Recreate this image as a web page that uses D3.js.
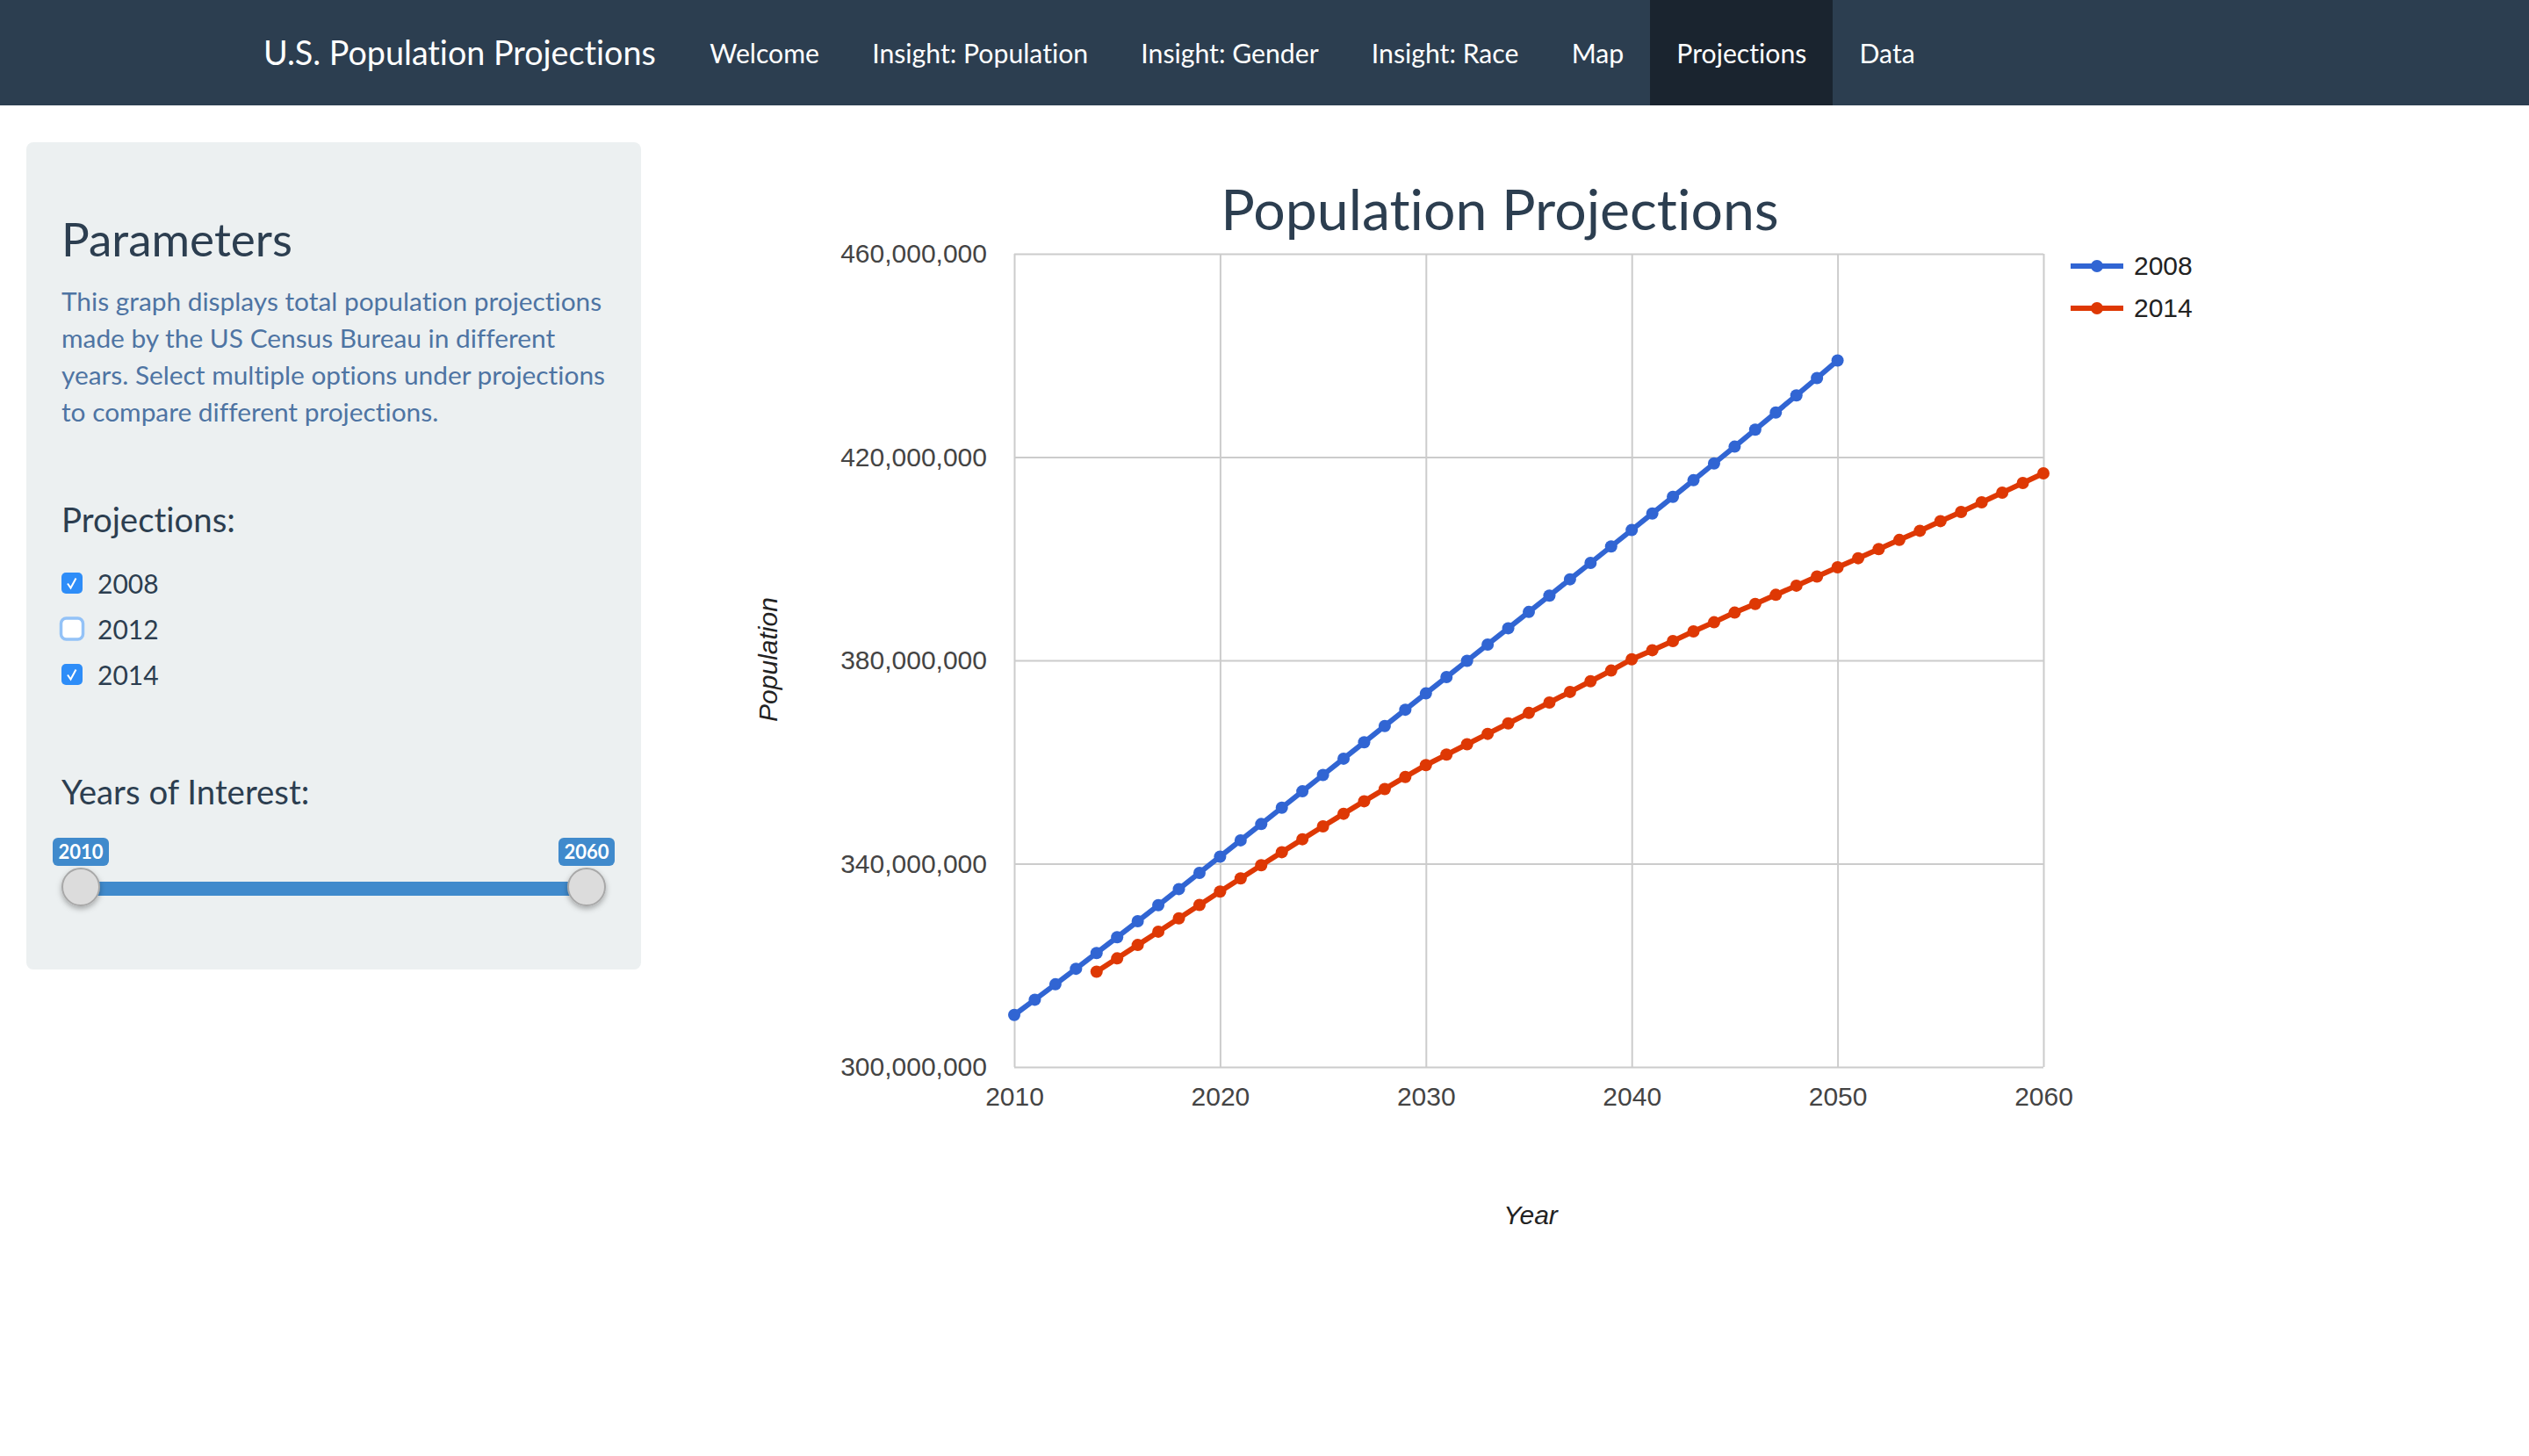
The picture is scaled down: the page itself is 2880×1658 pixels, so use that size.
<!DOCTYPE html>
<html>
<head>
<meta charset="utf-8">
<title>U.S. Population Projections</title>
<script src="https://cdn.jsdelivr.net/npm/d3@7"></script>
<style>
  html, body { margin: 0; padding: 0; background: #fff; }
  body { width: 2880px; height: 1658px; overflow: hidden; position: relative; font-family: Lato, sans-serif; font-variant-ligatures: none; }
  #nav { position: absolute; left: 0; top: 0; width: 2880px; height: 120px; background: #2c3e50; display: flex; padding-left: 300px; box-sizing: border-box; color: #fff; }
  #nav .brand { font-size: 37.7px; line-height: 120px; margin-right: 31.5px; white-space: nowrap; }
  #nav .item { font-size: 30.2px; line-height: 120px; padding: 0 30.1px; white-space: nowrap; }
  #nav .item.active { background: #1a242f; }
  #page { position: absolute; left: 0; top: 0; }
</style>
</head>
<body>
<div id="nav"></div>
<svg id="page" width="2880" height="1658"></svg>
<script>
// --- DATA ---
const brandLabel = 'U.S. Population Projections';
const navItems = ['Welcome', 'Insight: Population', 'Insight: Gender', 'Insight: Race', 'Map', 'Projections', 'Data'];
const activeItem = 'Projections';

const introLines = [
  'This graph displays total population projections',
  'made by the US Census Bureau in different',
  'years. Select multiple options under projections',
  'to compare different projections.'
];
const projectionOptions = ['2008', '2012', '2014'];
const checkedOptions = ['2008', '2014'];
const sliderRange = [2010, 2060];

const yTicks = [300000000, 340000000, 380000000, 420000000, 460000000];
const xTicks = [2010, 2020, 2030, 2040, 2050, 2060];

const years2008 = d3.range(2010, 2051);
const values2008 = [
  310.233, 313.232, 316.266, 319.330, 322.423, 325.540, 328.678, 331.833, 335.005, 338.190,
  341.387, 344.592, 347.803, 351.018, 354.235, 357.452, 360.667, 363.880, 367.090, 370.298,
  373.504, 376.708, 379.912, 383.117, 386.323, 389.531, 392.743, 395.961, 399.184, 402.415,
  405.655, 408.906, 412.170, 415.448, 418.743, 422.059, 425.395, 428.756, 432.143, 435.560,
  439.010
];
const years2014 = d3.range(2014, 2061);
const values2014 = [
  318.748, 321.369, 323.996, 326.626, 329.256, 331.884,
  334.503, 337.109, 339.698, 342.267, 344.814, 347.335, 349.826, 352.281, 354.698, 357.073,
  359.402, 361.460, 363.500, 365.550, 367.600, 369.662, 371.700, 373.800, 375.900, 378.000,
  380.219, 382.000, 383.800, 385.700, 387.500, 389.400, 391.100, 392.900, 394.700, 396.500,
  398.328, 400.100, 401.900, 403.700, 405.500, 407.400, 409.200, 411.100, 413.000, 414.900,
  416.795
];
const seriesNames = ['2008', '2014'];
const seriesColors = ['#3165d3', '#de3804'];

// --- NAV ---
const nav = d3.select('#nav');
nav.append('div').attr('class', 'brand').text(brandLabel);
nav.selectAll('div.item')
  .data(navItems)
  .join('div')
  .attr('class', d => d === activeItem ? 'item active' : 'item')
  .text(d => d);

const svg = d3.select('#page');
const defs = svg.append('defs');
const shadow = defs.append('filter').attr('id', 'handle-shadow')
  .attr('x', '-30%').attr('y', '-30%').attr('width', '160%').attr('height', '170%');
shadow.append('feDropShadow')
  .attr('dx', 0).attr('dy', 3).attr('stdDeviation', 3)
  .attr('flood-color', '#000').attr('flood-opacity', 0.3);

// --- SIDEBAR ---
const side = svg.append('g');
side.append('rect')
  .attr('x', 30).attr('y', 162).attr('width', 700).attr('height', 942)
  .attr('rx', 8).attr('fill', '#ecf0f1');

function lato(sel, size, color) {
  return sel.attr('font-family', 'Lato').attr('font-size', size).attr('fill', color);
}

side.append('text').attr('x', 70).attr('y', 292).text('Parameters').call(lato, 53, '#2c3e50');

side.selectAll('text.intro')
  .data(introLines)
  .join('text')
  .attr('class', 'intro')
  .attr('x', 70)
  .attr('y', (d, i) => 354 + i * 42)
  .text(d => d)
  .call(lato, 29.85, '#4e74a3');

side.append('text').attr('x', 70).attr('y', 606).text('Projections:').call(lato, 38.4, '#2c3e50');

const optionRows = side.selectAll('g.option')
  .data(projectionOptions)
  .join('g')
  .attr('class', 'option')
  .attr('transform', (d, i) => `translate(70,${652 + i * 52})`);

optionRows.filter(d => !checkedOptions.includes(d)).append('rect')
  .attr('x', -0.5).attr('y', 0).attr('width', 25).attr('height', 24).attr('rx', 6)
  .attr('fill', '#fff').attr('stroke', '#93c2f7').attr('stroke-width', 3.5);
optionRows.filter(d => checkedOptions.includes(d)).append('rect')
  .attr('width', 24).attr('height', 24).attr('rx', 5).attr('fill', '#2e8df8');
optionRows.filter(d => checkedOptions.includes(d)).append('path')
  .attr('d', 'M7 12.5 L10.5 17.5 L16.5 6.5')
  .attr('fill', 'none').attr('stroke', '#fff').attr('stroke-width', 2);
optionRows.append('text')
  .attr('x', 41).attr('y', 24)
  .text(d => d)
  .call(lato, 30, '#2c3e50');

side.append('text').attr('x', 70).attr('y', 916).text('Years of Interest:').call(lato, 38.4, '#2c3e50');

const sliderX = d3.scaleLinear().domain(sliderRange).range([92, 668]);
side.append('rect')
  .attr('x', sliderX(sliderRange[0])).attr('y', 1004)
  .attr('width', sliderX(sliderRange[1]) - sliderX(sliderRange[0])).attr('height', 16)
  .attr('fill', '#408acc');
side.selectAll('circle.handle')
  .data(sliderRange)
  .join('circle')
  .attr('class', 'handle')
  .attr('cx', d => sliderX(d)).attr('cy', 1010).attr('r', 21)
  .attr('fill', '#dcdcdc').attr('stroke', '#a8a8a8').attr('stroke-width', 2)
  .attr('filter', 'url(#handle-shadow)');
side.selectAll('rect.badge')
  .data(sliderRange)
  .join('rect')
  .attr('class', 'badge')
  .attr('x', d => sliderX(d) - 32).attr('y', 954)
  .attr('width', 64).attr('height', 32).attr('rx', 6)
  .attr('fill', '#408acc');
side.selectAll('text.badge-label')
  .data(sliderRange)
  .join('text')
  .attr('class', 'badge-label')
  .attr('x', d => sliderX(d)).attr('y', 978)
  .attr('text-anchor', 'middle')
  .attr('font-weight', 700)
  .text(d => d)
  .call(lato, 22, '#fff');

// --- CHART ---
const plot = { left: 1155, right: 2327, top: 289, bottom: 1215 };
const x = d3.scaleLinear().domain([2010, 2060]).range([plot.left, plot.right]);
const y = d3.scaleLinear().domain([300000000, 460000000]).range([plot.bottom, plot.top]);
const chart = svg.append('g');

chart.append('text')
  .attr('x', 1708).attr('y', 262)
  .attr('text-anchor', 'middle')
  .text('Population Projections')
  .call(lato, 64.4, '#2c3e50');

const xAxis = chart.append('g')
  .attr('transform', `translate(0,${plot.bottom})`)
  .call(d3.axisBottom(x).tickValues(xTicks).tickFormat(d3.format('d'))
    .tickSize(-(plot.bottom - plot.top)).tickPadding(23));
const yAxis = chart.append('g')
  .attr('transform', `translate(${plot.left},0)`)
  .call(d3.axisLeft(y).tickValues(yTicks).tickFormat(d3.format(','))
    .tickSize(-(plot.right - plot.left)).tickPadding(31));

[xAxis, yAxis].forEach(axis => {
  axis.select('.domain').remove();
  axis.selectAll('line').attr('stroke', '#cccccc').attr('stroke-width', 2);
  axis.selectAll('text')
    .attr('font-family', 'Liberation Sans').attr('font-size', 30).attr('fill', '#444444');
});

chart.append('text')
  .attr('x', 1743).attr('y', 1394)
  .attr('text-anchor', 'middle')
  .attr('font-family', 'Liberation Sans').attr('font-size', 30).attr('font-style', 'italic')
  .attr('fill', '#222222')
  .text('Year');
chart.append('text')
  .attr('transform', 'translate(885,751) rotate(-90)')
  .attr('text-anchor', 'middle')
  .attr('font-family', 'Liberation Sans').attr('font-size', 30).attr('font-style', 'italic')
  .attr('fill', '#222222')
  .text('Population');

const series = [
  { name: seriesNames[0], color: seriesColors[0], points: d3.zip(years2008, values2008) },
  { name: seriesNames[1], color: seriesColors[1], points: d3.zip(years2014, values2014) }
];
const line = d3.line().x(d => x(d[0])).y(d => y(d[1] * 1e6));

const lines = chart.selectAll('g.series')
  .data(series)
  .join('g')
  .attr('class', 'series');
lines.append('path')
  .attr('d', d => line(d.points))
  .attr('fill', 'none')
  .attr('stroke', d => d.color)
  .attr('stroke-width', 6);
lines.selectAll('circle')
  .data(d => d.points.map(p => ({ p, color: d.color })))
  .join('circle')
  .attr('cx', d => x(d.p[0]))
  .attr('cy', d => y(d.p[1] * 1e6))
  .attr('r', 7)
  .attr('fill', d => d.color);

// --- LEGEND ---
const legend = chart.selectAll('g.legend')
  .data(series)
  .join('g')
  .attr('class', 'legend')
  .attr('transform', (d, i) => `translate(2358,${303 + i * 48})`);
legend.append('line')
  .attr('x1', 0).attr('x2', 60)
  .attr('stroke', d => d.color).attr('stroke-width', 6);
legend.append('circle')
  .attr('cx', 30).attr('r', 7)
  .attr('fill', d => d.color);
legend.append('text')
  .attr('x', 72).attr('y', 10)
  .attr('font-family', 'Liberation Sans').attr('font-size', 30)
  .attr('fill', '#222222')
  .text(d => d.name);
</script>
</body>
</html>
